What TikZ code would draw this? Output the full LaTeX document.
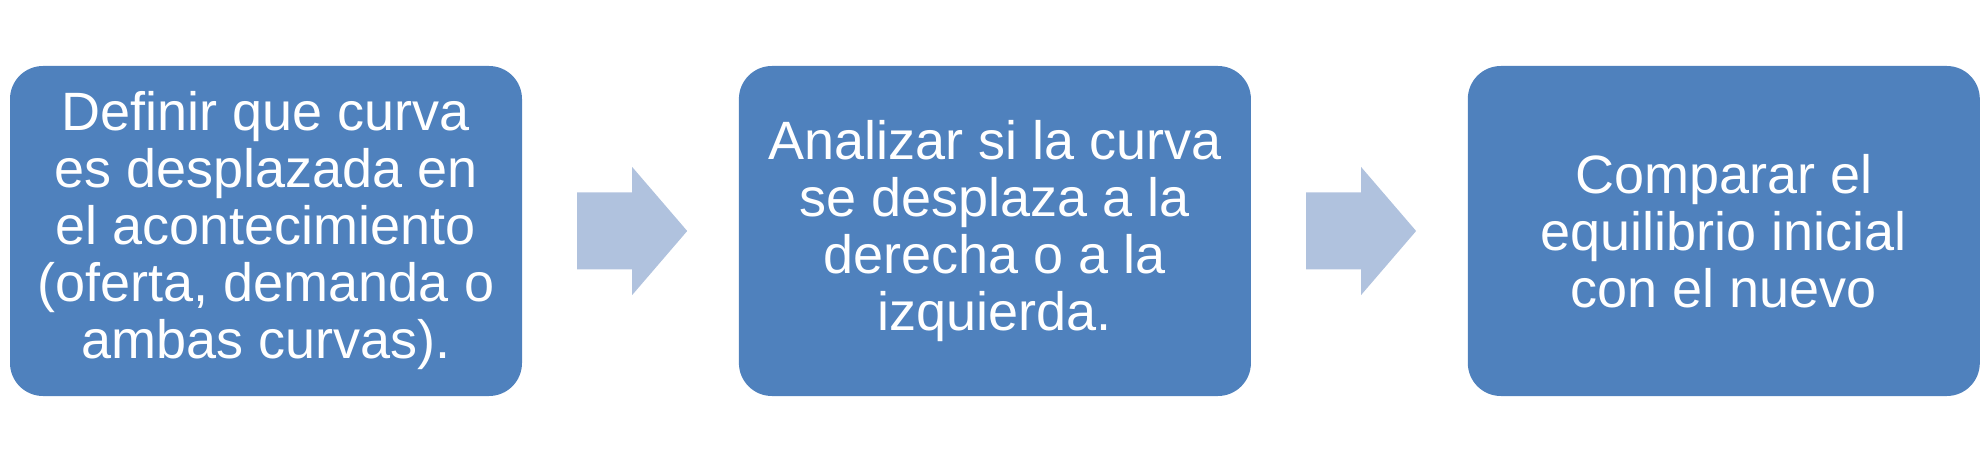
\documentclass[tikz,border=0pt]{standalone}
\usepackage{fontspec}
\setmainfont{Liberation Sans}
\usetikzlibrary{positioning}

\definecolor{boxBlue}{HTML}{4F81BD}
\definecolor{arrowBlue}{HTML}{B0C2DE}

\tikzset{
    stageBox/.style={fill=boxBlue, draw=none, rounded corners=33, inner sep=0,
        minimum width=512, minimum height=330, text=white, align=center,
        font=\fontsize{54}{57}\selectfont},
    blockArrow/.style={fill=arrowBlue, draw=none}
}

\begin{document}
\begin{tikzpicture}[x=1pt, y=1pt]

    \def\boxPitch{728.5}
    \def\boxY{230}
    \def\arrowGap{55}
    \def\arrowShaft{38.5}
    \def\arrowHead{64}

    \useasboundingbox (0, 0) rectangle (1986, 461);

    % stages
    \node[stageBox] (box1) at (266, \boxY) {Definir que curva\\es desplazada en\\el acontecimiento\\(oferta, demanda o\\ambas curvas).};
    \node[stageBox, right=\boxPitch-512 of box1] (box2) {Analizar si la curva\\se desplaza a la\\derecha o a la\\izquierda.};
    \node[stageBox, right=\boxPitch-512 of box2] (box3) {Comparar el\\equilibrio inicial\\con el nuevo};

    % block arrows between the stages
    \foreach \arrowNo in {1, 2}
    {
        \begin{scope}[shift={(box\arrowNo.east)}]
            \fill[blockArrow] (\arrowGap, -\arrowShaft) -- (\arrowGap+55, -\arrowShaft)
                -- (\arrowGap+55, -\arrowHead) -- (\arrowGap+110, 0)
                -- (\arrowGap+55, \arrowHead) -- (\arrowGap+55, \arrowShaft)
                -- (\arrowGap, \arrowShaft) -- cycle;
        \end{scope}
    }

\end{tikzpicture}
\end{document}
